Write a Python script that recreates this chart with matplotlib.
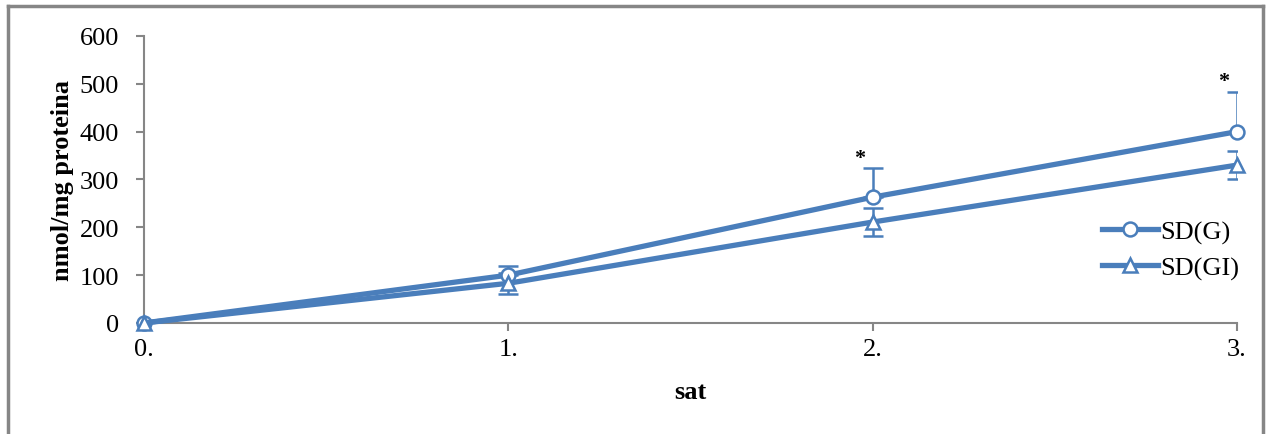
import matplotlib.pyplot as plt
from matplotlib.lines import Line2D

plt.rcParams['font.family'] = ['Liberation Serif', 'DejaVu Serif']

# data
x = [0, 1, 2, 3]
x_labels = ['0.', '1.', '2.', '3.']
sd_g = [0, 100, 263, 400]
sd_g_err = [0, 19, 60, 82]
sd_gi = [0, 83, 211, 330]
sd_gi_err = [0, 22, 30, 30]
stars_x = [2, 3]

blue = '#4A7EBB'
gray = '#868686'

fig = plt.figure(figsize=(12.66, 4.35), dpi=100)
ax = fig.add_axes([0.1137, 0.2552, 0.977 - 0.1137, 0.915 - 0.2552])

# error bars (upper for G, both for GI)
ax.errorbar(x, sd_g, yerr=[[0] * 4, sd_g_err], fmt='none', ecolor=blue,
            elinewidth=1.8, capsize=7, capthick=1.8, zorder=2)
ax.errorbar(x, sd_gi, yerr=sd_gi_err, fmt='none', ecolor=blue,
            elinewidth=1.8, capsize=7, capthick=1.8, zorder=2)

ax.plot(x, sd_g, color=blue, lw=3.8, marker='o', ms=10, mfc='white',
        mec=blue, mew=1.8, zorder=3, label='SD(G)', clip_on=False)
ax.plot(x, sd_gi, color=blue, lw=3.8, marker='^', ms=10, mfc='white',
        mec=blue, mew=1.8, zorder=3, label='SD(GI)', clip_on=False)

for sx in stars_x:
    top = sd_g[sx] + sd_g_err[sx]
    ax.text(sx - 0.035, top + 2, '*', fontsize=16, fontweight='bold',
            ha='center', va='bottom', color='black')

ax.set_xlim(0, 3)
ax.set_ylim(0, 600)
ax.set_yticks(range(0, 601, 100))
ax.set_xticks(x)
ax.set_xticklabels(x_labels)
ax.tick_params(axis='both', labelsize=19, color=gray, length=6, width=1.5,
               direction='out')
ax.tick_params(axis='x', pad=5)
ax.tick_params(axis='y', pad=12)
for s in ['top', 'right']:
    ax.spines[s].set_visible(False)
for s in ['left', 'bottom']:
    ax.spines[s].set_color(gray)
    ax.spines[s].set_linewidth(1.5)

ax.set_xlabel('sat', fontsize=19, fontweight='bold', labelpad=14)
ax.set_ylabel('nmol/mg proteina', fontsize=19, fontweight='bold', labelpad=4)

leg = ax.legend(loc='center left', bbox_to_anchor=(0.855, 0.255),
                frameon=False, fontsize=19, handlelength=2.1,
                handletextpad=0.1, labelspacing=0.45)

# chart area border
fig.add_artist(Line2D([0.0065, 0.0065], [0, 0.984], color=gray, lw=2.5,
                      transform=fig.transFigure))
fig.add_artist(Line2D([0.9975, 0.9975], [0, 0.984], color=gray, lw=2.5,
                      transform=fig.transFigure))
fig.add_artist(Line2D([0.0065, 0.9975], [0.984, 0.984], color=gray, lw=2.5,
                      transform=fig.transFigure))

fig.savefig('out.png', dpi=100)
